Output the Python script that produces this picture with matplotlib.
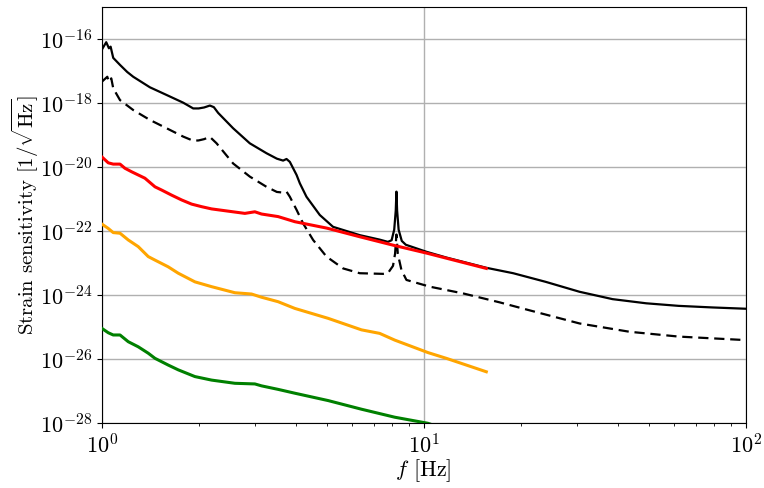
import numpy as np
import matplotlib
matplotlib.use("Agg")
import matplotlib.pyplot as plt
from matplotlib.ticker import LogLocator, NullLocator, FixedLocator

plt.rcParams['mathtext.fontset'] = 'cm'
plt.rcParams['font.family'] = 'serif'
plt.rcParams['font.serif'] = ['cmr10', 'DejaVu Serif']
plt.rcParams['axes.formatter.use_mathtext'] = True
plt.rcParams['axes.unicode_minus'] = True

# ---- data (frequency in Hz, log10 of strain sensitivity) ----
solid_f = [1.0, 1.033, 1.053, 1.066, 1.086, 1.14, 1.20, 1.253, 1.412, 1.591,
           1.791, 1.924, 2.0, 2.08, 2.168, 2.23, 2.30, 2.56, 2.884, 3.25,
           3.50, 3.66, 3.75, 3.84, 4.03, 4.125, 4.325, 4.757, 5.23, 6.33,
           7.30, 7.74, 7.95, 8.10, 8.19, 8.23, 8.27, 8.36, 8.55, 8.80,
           10.2, 11.76, 13.57, 15.65, 18.97, 23.94, 30.48, 38.6, 49.1, 61.9,
           79.0, 100.0]
solid_logh = [-16.33, -16.09, -16.28, -16.23, -16.58, -16.80, -17.02, -17.17, -17.50, -17.74,
              -17.98, -18.16, -18.16, -18.13, -18.07, -18.12, -18.30, -18.78, -19.25, -19.56,
              -19.73, -19.79, -19.74, -19.83, -20.24, -20.50, -20.92, -21.49, -21.86, -22.12,
              -22.26, -22.33, -22.28, -21.95, -21.35, -20.76, -21.35, -21.95, -22.30, -22.42,
              -22.64, -22.82, -22.98, -23.14, -23.31, -23.58, -23.89, -24.12, -24.25, -24.33,
              -24.38, -24.42]

dashed_f = [1.0, 1.041, 1.053, 1.071, 1.086, 1.14, 1.253, 1.412, 1.591, 1.791,
            1.924, 2.0, 2.08, 2.168, 2.274, 2.56, 2.884, 3.25, 3.50, 3.66,
            3.75, 3.84, 4.03, 4.22, 4.535, 4.99, 5.62, 6.33, 7.48, 7.74,
            8.03, 8.15, 8.23, 8.31, 8.53, 8.84, 10.44, 13.24, 17.21, 21.33,
            30.48, 43.6, 61.9, 100.0]
dashed_logh = [-17.33, -17.17, -17.33, -17.22, -17.53, -17.90, -18.21, -18.52, -18.78, -19.04,
               -19.17, -19.16, -19.12, -19.05, -19.25, -19.88, -20.29, -20.61, -20.77, -20.79,
               -20.76, -20.92, -21.33, -21.75, -22.27, -22.79, -23.16, -23.31, -23.33, -23.31,
               -23.08, -22.70, -22.10, -22.70, -23.21, -23.52, -23.73, -23.94, -24.22, -24.47,
               -24.88, -25.14, -25.29, -25.40]

red_f = [1.0, 1.048, 1.086, 1.14, 1.181, 1.239, 1.299, 1.362, 1.464, 1.535,
         1.649, 1.771, 1.902, 2.043, 2.194, 2.471, 2.784, 2.99, 3.136, 3.531,
         3.98, 5.0, 6.33, 8.01, 10.2, 11.76, 13.57, 15.65]
red_logh = [-19.67, -19.86, -19.90, -19.90, -20.03, -20.14, -20.24, -20.34, -20.61, -20.71,
            -20.87, -21.02, -21.15, -21.23, -21.30, -21.37, -21.44, -21.39, -21.46, -21.54,
            -21.70, -21.90, -22.17, -22.43, -22.68, -22.84, -23.00, -23.16]

orange_f = [1.0, 1.048, 1.086, 1.14, 1.209, 1.299, 1.395, 1.464, 1.609, 1.729,
            1.948, 2.194, 2.593, 2.92, 3.136, 3.531, 3.98, 5.05, 6.41, 7.30,
            8.13, 10.31, 11.76, 15.65]
orange_logh = [-21.77, -21.91, -22.04, -22.06, -22.27, -22.48, -22.79, -22.90, -23.11, -23.31,
               -23.58, -23.73, -23.92, -23.96, -24.06, -24.20, -24.41, -24.72, -25.08, -25.19,
               -25.40, -25.79, -25.97, -26.39]

green_f = [1.0, 1.048, 1.086, 1.14, 1.209, 1.299, 1.395, 1.464, 1.609, 1.729,
           1.948, 2.194, 2.593, 2.99, 3.136, 3.531, 3.98, 5.05, 6.41, 8.13,
           10.31, 11.76, 15.65]
green_logh = [-25.03, -25.17, -25.24, -25.24, -25.45, -25.61, -25.81, -25.97, -26.18, -26.33,
              -26.54, -26.65, -26.75, -26.77, -26.83, -26.94, -27.06, -27.29, -27.56, -27.81,
              -28.00, -28.20, -28.50]

y_tick_exps = [-28, -26, -24, -22, -20, -18, -16]

fig = plt.figure(figsize=(7.64, 4.88), dpi=100)
ax = fig.add_axes([0.1331, 0.1326, 0.976 - 0.1331, 0.985 - 0.1326])

def h(v):
    return 10.0 ** np.asarray(v)

ax.plot(solid_f, h(solid_logh), color='black', lw=1.6, zorder=2)
ax.plot(dashed_f, h(dashed_logh), color='black', lw=1.6, ls=(0, (4.6, 2.6)), zorder=2)
ax.plot(red_f, h(red_logh), color='red', lw=2.2, zorder=3)
ax.plot(orange_f, h(orange_logh), color='orange', lw=2.2, zorder=3)
ax.plot(green_f, h(green_logh), color='green', lw=2.2, zorder=3)

ax.set_xscale('log')
ax.set_yscale('log')
ax.set_xlim(1, 100)
ax.set_ylim(1e-28, 1e-15)
ax.yaxis.set_major_locator(FixedLocator([10.0 ** e for e in y_tick_exps]))
ax.yaxis.set_minor_locator(NullLocator())
ax.xaxis.set_major_locator(LogLocator(base=10))
ax.xaxis.set_minor_locator(LogLocator(base=10, subs=np.arange(2, 10)))
ax.grid(True, which='major', color='#b0b0b0', lw=1.0)
ax.set_axisbelow(True)
ax.tick_params(labelsize=16)

ax.set_xlabel(r'$f$ [Hz]', fontsize=16, labelpad=0)
ax.set_ylabel(r'Strain sensitivity $[1/\sqrt{\mathrm{Hz}}]$', fontsize=15, labelpad=-1)

fig.savefig('out.png', dpi=100)
